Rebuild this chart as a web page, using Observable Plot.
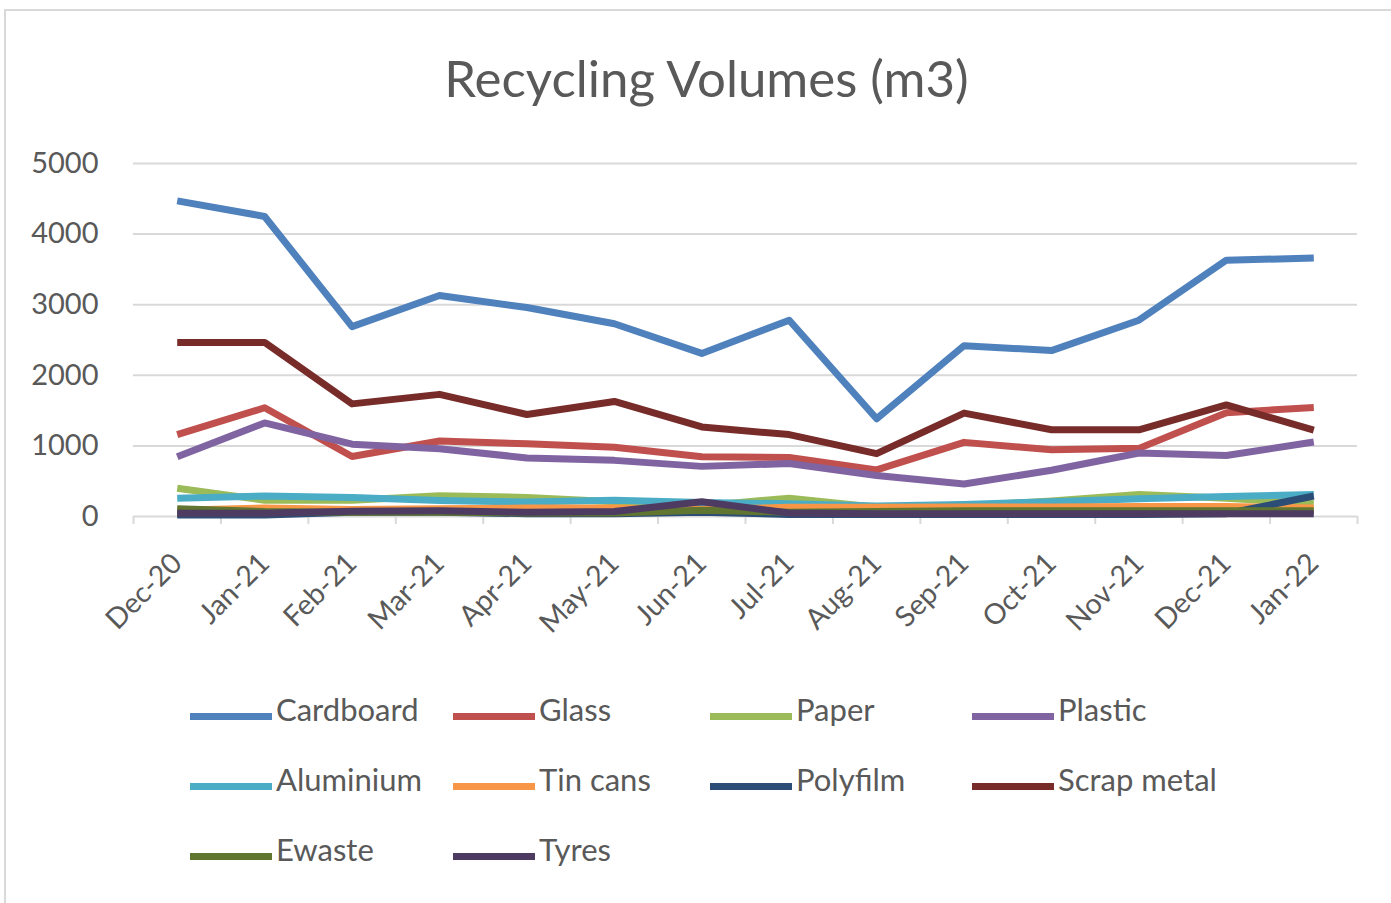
<!DOCTYPE html>
<html>
<head>
<meta charset="utf-8">
<script src="https://cdn.jsdelivr.net/npm/d3@7"></script>
<script src="https://cdn.jsdelivr.net/npm/@observablehq/plot@0.6"></script>
<style>
  html, body { margin: 0; padding: 0; background: #fff; }
  body { width: 1391px; height: 903px; position: relative; overflow: hidden; font-family: Lato, "Open Sans", sans-serif; color: #595959; }
  #frame { position: absolute; left: 4px; top: 9px; width: 1500px; height: 1000px; border-left: 2px solid #d9d9d9; border-top: 2px solid #d9d9d9; }
  #title { position: absolute; left: 0; top: 47px; width: 1413px; text-align: center; font-size: 51px; line-height: 62px; color: #595959; }
  #chart { position: absolute; left: 0; top: 0; }
  #legend { position: absolute; left: 0; top: 0; }
  .item { position: absolute; height: 40px; }
  .sw { position: absolute; left: 0; width: 82px; height: 7px; }
  .lab { position: absolute; left: 86px; font-size: 31px; line-height: 40px; white-space: nowrap; color: #595959; }
</style>
</head>
<body>
<div id="frame"></div>
<div id="title">Recycling Volumes (m3)</div>
<div id="chart"></div>
<div id="legend"></div>
<script>
const months = ["Dec-20","Jan-21","Feb-21","Mar-21","Apr-21","May-21","Jun-21","Jul-21","Aug-21","Sep-21","Oct-21","Nov-21","Dec-21","Jan-22"];
const seriesNames = ["Cardboard","Glass","Paper","Plastic","Aluminium","Tin cans","Polyfilm","Scrap metal","Ewaste","Tyres"];
const seriesColors = ["#4F81BD","#C0504D","#9BBB59","#8064A2","#4BACC6","#F79646","#2C4D75","#772C2A","#5F7530","#4D3B62"];
const cardboard  = [4470, 4250, 2690, 3130, 2960, 2730, 2310, 2780, 1385, 2420, 2350, 2780, 3630, 3660];
const glass      = [1160, 1540,  850, 1070, 1030,  980,  845,  835,  660, 1050,  945,  965, 1470, 1545];
const paper      = [ 400,  230,  230,  295,  270,  210,  150,  260,  130,  150,  220,  310,  260,  180];
const plastic    = [ 845, 1325, 1025,  960,  830,  795,  710,  750,  580,  460,  655,  900,  865, 1055];
const aluminium  = [ 260,  290,  270,  225,  205,  230,  200,  180,  150,  170,  210,  250,  285,  310];
const tinCans    = [  90,  120,  100,  110,  120,  120,  100,  130,  130,  135,  135,  140,  140,  120];
const polyfilm   = [  20,   20,   60,   60,   40,   40,   60,   30,   30,   30,   30,   30,   40,  290];
const scrapMetal = [2465, 2465, 1595, 1730, 1445, 1630, 1268, 1160,  890, 1465, 1228, 1228, 1580, 1225];
const ewaste     = [ 110,   70,   60,   60,   50,   50,   90,   60,   70,   80,   80,   80,   80,   80];
const tyres      = [  45,   45,   75,   80,   60,   70,  210,   50,   40,   40,   40,   40,   40,   40];
const yTicks = [0, 1000, 2000, 3000, 4000, 5000];

const seriesValues = [cardboard, glass, paper, plastic, aluminium, tinCans, polyfilm, scrapMetal, ewaste, tyres];
const data = [];
seriesNames.forEach((name, s) => {
  seriesValues[s].forEach((v, i) => data.push({series: name, i, value: v}));
});
const idx = months.map((_, i) => i);
const bounds = months.map((_, i) => i - 0.5).concat([months.length - 0.5]);

const gridColor = "#d9d9d9";
const chart = Plot.plot({
  width: 1391,
  height: 660,
  marginLeft: 133,
  marginRight: 34,
  marginTop: 163,
  marginBottom: 144,
  style: {fontFamily: "Lato, 'Open Sans', sans-serif", color: "#595959", background: "transparent"},
  x: {type: "linear", domain: [-0.5, months.length - 0.5]},
  y: {domain: [0, 5000]},
  color: {domain: seriesNames, range: seriesColors},
  marks: [
    Plot.gridY(yTicks.filter(d => d > 0), {stroke: gridColor, strokeOpacity: 1, strokeWidth: 2}),
    Plot.axisY(yTicks, {tickSize: 0, tickPadding: 35, fontSize: 29, fill: "#595959", label: null, tickFormat: d => String(d)}),
    Plot.axisX(bounds, {tickSize: 8, tickFormat: () => "", stroke: gridColor, strokeWidth: 2, label: null}),
    Plot.ruleY([0], {stroke: gridColor, strokeWidth: 2}),
    Plot.axisX(idx, {tickSize: 0, tickPadding: 42, tickRotate: -45, tickFormat: i => months[i], fontSize: 28.5, fill: "#595959", label: null}),
    Plot.line(data, {x: "i", y: "value", z: "series", stroke: "series", strokeWidth: 7, strokeLinejoin: "round", strokeLinecap: "butt"})
  ]
});
document.getElementById("chart").appendChild(chart);

const colX = [190, 453, 710, 972];
const rowY = [697, 767, 837];
const legend = d3.select("#legend");
seriesNames.forEach((name, k) => {
  const item = legend.append("div").attr("class", "item")
    .style("left", colX[k % 4] + "px").style("top", rowY[Math.floor(k / 4)] + "px");
  item.append("div").attr("class", "sw").style("top", "16px").style("background", seriesColors[k]);
  item.append("div").attr("class", "lab").style("top", "-8px").text(name);
});
</script>
</body>
</html>
